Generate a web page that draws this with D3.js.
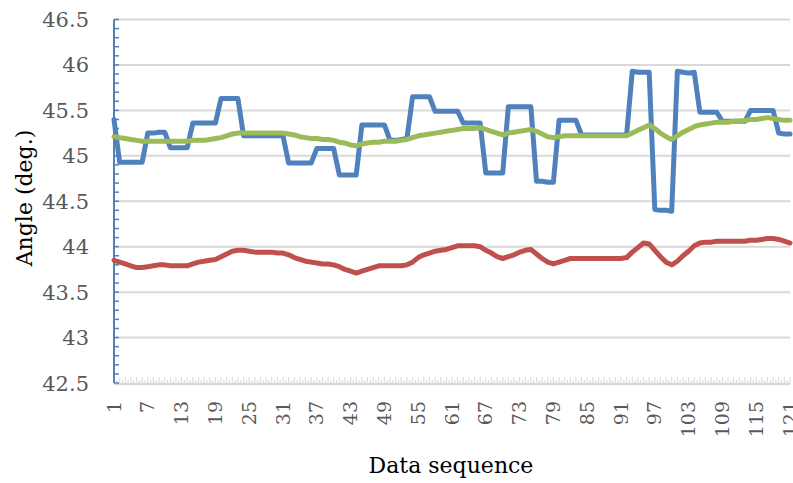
<!DOCTYPE html>
<meta charset="utf-8">
<head>
	<title>Angle vs data sequence</title>
	<script src="https://cdn.jsdelivr.net/npm/d3@7"></script>
	<style>
		body { margin: 0; background: #fff; }
		text { font-family: "DejaVu Serif", "Liberation Serif", serif; }
	</style>
</head>
<body>
	<svg width="793" height="483" id="chart"></svg>
	<script>
		// data, one value per sequence point (1..121)
		var seqStart = 1, seqEnd = 121;
		var xTickLabels = [1, 7, 13, 19, 25, 31, 37, 43, 49, 55, 61, 67, 73, 79, 85, 91, 97, 103, 109, 115, 121];
		var yTicks = [42.5, 43, 43.5, 44, 44.5, 45, 45.5, 46, 46.5];

		var blueVals = [
			45.40, 44.93, 44.93, 44.93, 44.93, 44.93, 45.25, 45.25, 45.26, 45.26,
			45.09, 45.09, 45.09, 45.09, 45.36, 45.36, 45.36, 45.36, 45.36, 45.63,
			45.63, 45.63, 45.63, 45.22, 45.22, 45.22, 45.22, 45.22, 45.22, 45.22,
			45.22, 44.92, 44.92, 44.92, 44.92, 44.92, 45.08, 45.08, 45.08, 45.08,
			44.79, 44.79, 44.79, 44.79, 45.34, 45.34, 45.34, 45.34, 45.34, 45.17,
			45.17, 45.18, 45.19, 45.65, 45.65, 45.65, 45.65, 45.49, 45.49, 45.49,
			45.49, 45.49, 45.36, 45.36, 45.36, 45.36, 44.81, 44.81, 44.81, 44.81,
			45.54, 45.54, 45.54, 45.54, 45.54, 44.72, 44.72, 44.71, 44.71, 45.39,
			45.39, 45.39, 45.39, 45.23, 45.23, 45.23, 45.23, 45.23, 45.23, 45.23,
			45.23, 45.23, 45.93, 45.92, 45.92, 45.92, 44.41, 44.40, 44.40, 44.39,
			45.93, 45.92, 45.91, 45.92, 45.48, 45.48, 45.48, 45.48, 45.38, 45.38,
			45.38, 45.38, 45.38, 45.50, 45.50, 45.50, 45.50, 45.50, 45.25, 45.24,
			45.24
		];
		var redVals = [
			43.85, 43.83, 43.81, 43.79, 43.77, 43.77, 43.78, 43.79, 43.80, 43.80,
			43.79, 43.79, 43.79, 43.79, 43.81, 43.83, 43.84, 43.85, 43.86, 43.89,
			43.92, 43.95, 43.96, 43.96, 43.95, 43.94, 43.94, 43.94, 43.94, 43.93,
			43.93, 43.91, 43.88, 43.86, 43.84, 43.83, 43.82, 43.81, 43.81, 43.80,
			43.78, 43.75, 43.73, 43.71, 43.73, 43.75, 43.77, 43.79, 43.79, 43.79,
			43.79, 43.79, 43.80, 43.83, 43.88, 43.91, 43.93, 43.95, 43.96, 43.97,
			43.99, 44.01, 44.01, 44.01, 44.01, 44.00, 43.96, 43.93, 43.89, 43.87,
			43.89, 43.91, 43.94, 43.96, 43.97, 43.92, 43.87, 43.83, 43.81, 43.83,
			43.85, 43.87, 43.87, 43.87, 43.87, 43.87, 43.87, 43.87, 43.87, 43.87,
			43.87, 43.88, 43.94, 43.99, 44.04, 44.03, 43.96, 43.89, 43.83, 43.80,
			43.84, 43.90, 43.95, 44.01, 44.04, 44.05, 44.05, 44.06, 44.06, 44.06,
			44.06, 44.06, 44.06, 44.07, 44.07, 44.08, 44.09, 44.09, 44.08, 44.06,
			44.04
		];
		var greenVals = [
			45.21, 45.20, 45.19, 45.18, 45.17, 45.16, 45.16, 45.16, 45.16, 45.16,
			45.16, 45.16, 45.16, 45.16, 45.17, 45.17, 45.17, 45.18, 45.19, 45.20,
			45.22, 45.24, 45.25, 45.25, 45.25, 45.25, 45.25, 45.25, 45.25, 45.25,
			45.25, 45.24, 45.23, 45.21, 45.20, 45.19, 45.19, 45.18, 45.18, 45.17,
			45.15, 45.14, 45.12, 45.11, 45.13, 45.14, 45.15, 45.15, 45.16, 45.16,
			45.16, 45.17, 45.18, 45.20, 45.22, 45.23, 45.24, 45.25, 45.26, 45.27,
			45.28, 45.29, 45.30, 45.30, 45.30, 45.31, 45.29, 45.27, 45.25, 45.23,
			45.25, 45.26, 45.27, 45.28, 45.29, 45.27, 45.24, 45.21, 45.20, 45.21,
			45.22, 45.22, 45.22, 45.22, 45.22, 45.22, 45.22, 45.22, 45.22, 45.22,
			45.22, 45.22, 45.25, 45.28, 45.31, 45.34, 45.30, 45.25, 45.21, 45.18,
			45.22, 45.26, 45.29, 45.32, 45.34, 45.35, 45.36, 45.37, 45.37, 45.37,
			45.38, 45.38, 45.39, 45.40, 45.40, 45.41, 45.42, 45.41, 45.40, 45.39,
			45.39
		];

		var series = [
			{ name: "blue", color: "#4f81bd", values: blueVals },
			{ name: "red", color: "#c0504d", values: redVals },
			{ name: "green", color: "#9bbb59", values: greenVals }
		];

		var svg = d3.select("#chart");

		var x = d3.scaleLinear().domain([seqStart, seqEnd]).range([114, 790]),
			y = d3.scaleLinear().domain([42.5, 46.5]).range([383, 19.5]);

		// gridlines
		svg.append("g")
			.selectAll("line")
			.data(yTicks.filter(function (d) { return d > 42.5; }))
			.enter()
			.append("line")
			.attr("x1", x(seqStart))
			.attr("x2", x(seqEnd))
			.attr("y1", function (d) { return y(d); })
			.attr("y2", function (d) { return y(d); })
			.attr("stroke", "#d9d9d9")
			.attr("stroke-width", 2);

		// x axis: grey line with a tick per point and a small one between
		var xa = svg.append("g");
		var pts = d3.range(seqStart, seqEnd + 1);
		xa.selectAll("line.maj")
			.data(pts)
			.enter()
			.append("line")
			.attr("class", "maj")
			.attr("x1", function (d) { return x(d); })
			.attr("x2", function (d) { return x(d); })
			.attr("y1", y(42.5) - 6)
			.attr("y2", y(42.5))
			.attr("stroke", "#d9d9d9")
			.attr("stroke-width", 1);
		xa.selectAll("line.min")
			.data(pts.slice(1))
			.enter()
			.append("line")
			.attr("class", "min")
			.attr("x1", function (d) { return x(d - 0.5); })
			.attr("x2", function (d) { return x(d - 0.5); })
			.attr("y1", y(42.5) - 3)
			.attr("y2", y(42.5))
			.attr("stroke", "#d9d9d9")
			.attr("stroke-width", 1);
		xa.append("line")
			.attr("x1", x(seqStart))
			.attr("x2", x(seqEnd))
			.attr("y1", y(42.5) + 1)
			.attr("y2", y(42.5) + 1)
			.attr("stroke", "#d9d9d9")
			.attr("stroke-width", 2.5);

		xa.selectAll("text")
			.data(xTickLabels)
			.enter()
			.append("text")
			.attr("transform", function (d) { return "translate(" + x(d) + ",401) rotate(-90)"; })
			.attr("dy", ".35em")
			.attr("text-anchor", "end")
			.attr("font-size", "19px")
			.attr("fill", "#595959")
			.text(function (d) { return d; });

		// y axis (blue, minor ticks every 0.1)
		var ya = svg.append("g");
		ya.selectAll("line.tick")
			.data(d3.range(0, 41).map(function (i) { return 42.5 + i * 0.1; }))
			.enter()
			.append("line")
			.attr("class", "tick")
			.attr("x1", x(seqStart))
			.attr("x2", x(seqStart) + 5)
			.attr("y1", function (d) { return y(d); })
			.attr("y2", function (d) { return y(d); })
			.attr("stroke", "#4f81bd")
			.attr("stroke-width", 1.5);
		ya.append("line")
			.attr("x1", x(seqStart))
			.attr("x2", x(seqStart))
			.attr("y1", y(46.5))
			.attr("y2", y(42.5))
			.attr("stroke", "#4f81bd")
			.attr("stroke-width", 2);

		ya.selectAll("text")
			.data(yTicks)
			.enter()
			.append("text")
			.attr("x", 89)
			.attr("y", function (d) { return y(d); })
			.attr("dy", ".36em")
			.attr("text-anchor", "end")
			.attr("font-size", "21px")
			.attr("fill", "#595959")
			.text(function (d) { return d; });

		// lines
		var line = d3.line()
			.x(function (d, i) { return x(seqStart + i); })
			.y(function (d) { return y(d); });

		svg.append("g")
			.selectAll("path")
			.data(series)
			.enter()
			.append("path")
			.attr("d", function (s) { return line(s.values); })
			.attr("fill", "none")
			.attr("stroke", function (s) { return s.color; })
			.attr("stroke-width", 5)
			.attr("stroke-linejoin", "round")
			.attr("stroke-linecap", "round");

		// axis titles
		svg.append("text")
			.attr("transform", "translate(32,198) rotate(-90)")
			.attr("text-anchor", "middle")
			.attr("font-size", "22px")
			.attr("fill", "#000")
			.text("Angle (deg.)");

		svg.append("text")
			.attr("x", 451)
			.attr("y", 473)
			.attr("text-anchor", "middle")
			.attr("font-size", "22px")
			.attr("fill", "#000")
			.text("Data sequence");
	</script>
</body>
